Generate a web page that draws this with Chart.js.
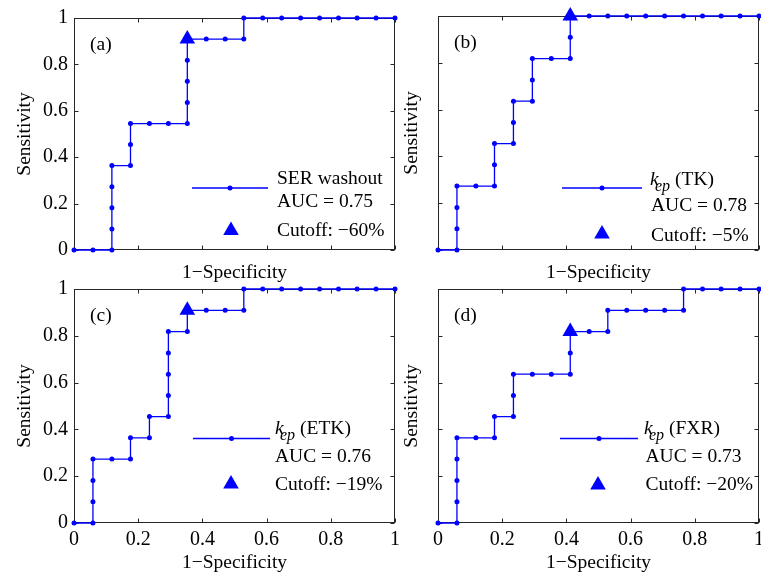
<!DOCTYPE html>
<html>
<head>
<meta charset="utf-8">
<script src="https://cdn.jsdelivr.net/npm/chart.js@4/dist/chart.umd.min.js"></script>
<style>
html,body{margin:0;padding:0;background:#fff;overflow:hidden}
body{width:761px;height:581px;position:relative}
canvas{position:absolute;left:0;top:0}
</style>
</head>
<body>
<canvas id="cA" width="770" height="581"></canvas>
<canvas id="cB" width="770" height="581"></canvas>
<canvas id="cC" width="770" height="581"></canvas>
<canvas id="cD" width="770" height="581"></canvas>
<script>
// -----------------------------
// DATA
// -----------------------------

const tickValues = [0, 0.2, 0.4, 0.6, 0.8, 1];
const tickLabels = ["0", "0.2", "0.4", "0.6", "0.8", "1"];

// (a) SER washout
const fprA = [0,0.059,0.118,0.118,0.118,0.118,0.118,0.176,0.176,0.176,0.235,0.294,0.353,0.353,0.353,0.353,0.353,0.412,0.471,0.529,0.529,0.588,0.647,0.706,0.765,0.824,0.882,0.941,1];
const tprA = [0,0,0,0.091,0.182,0.273,0.364,0.364,0.455,0.545,0.545,0.545,0.545,0.636,0.727,0.818,0.909,0.909,0.909,0.909,1,1,1,1,1,1,1,1,1];
const cutA = [0.353, 0.909];

// (b) kep (TK)
const fprB = [0,0.059,0.059,0.059,0.059,0.118,0.176,0.176,0.176,0.235,0.235,0.235,0.294,0.294,0.294,0.353,0.412,0.412,0.412,0.471,0.529,0.588,0.647,0.706,0.765,0.824,0.882,0.941,1];
const tprB = [0,0,0.091,0.182,0.273,0.273,0.273,0.364,0.455,0.455,0.545,0.636,0.636,0.727,0.818,0.818,0.818,0.909,1,1,1,1,1,1,1,1,1,1,1];
const cutB = [0.412, 1];

// (c) kep (ETK)
const fprC = [0,0.059,0.059,0.059,0.059,0.118,0.176,0.176,0.235,0.235,0.294,0.294,0.294,0.294,0.294,0.353,0.353,0.412,0.471,0.529,0.529,0.588,0.647,0.706,0.765,0.824,0.882,0.941,1];
const tprC = [0,0,0.091,0.182,0.273,0.273,0.273,0.364,0.364,0.455,0.455,0.545,0.636,0.727,0.818,0.818,0.909,0.909,0.909,0.909,1,1,1,1,1,1,1,1,1];
const cutC = [0.353, 0.909];

// (d) kep (FXR)
const fprD = [0,0.059,0.059,0.059,0.059,0.059,0.118,0.176,0.176,0.235,0.235,0.235,0.294,0.353,0.412,0.412,0.412,0.471,0.529,0.529,0.588,0.647,0.706,0.765,0.765,0.824,0.882,0.941,1];
const tprD = [0,0,0.091,0.182,0.273,0.364,0.364,0.364,0.455,0.455,0.545,0.636,0.636,0.636,0.636,0.727,0.818,0.818,0.818,0.909,0.909,0.909,0.909,0.909,1,1,1,1,1];
const cutD = [0.412, 0.818];

const panelTags = ["(a)", "(b)", "(c)", "(d)"];
const seriesNames = ["SER washout", "(TK)", "(ETK)", "(FXR)"];
const aucValues = ["0.75", "0.78", "0.76", "0.73"];
const cutoffValues = ["\u221260%", "\u22125%", "\u221219%", "\u221220%"];

const BLUE = "#0000ff";
const SERIF = "'Liberation Serif', 'Times New Roman', serif";

// -----------------------------
// DECORATION PLUGIN (box, inward ticks, tag, legend)
// -----------------------------

function drawMarker(ctx, style, r, x, y){
if(Chart.helpers && Chart.helpers.drawPoint){
Chart.helpers.drawPoint(ctx,{pointStyle:style,radius:r,borderWidth:0,rotation:0},x,y);
return;
}
ctx.beginPath();
if(style==="triangle"){
ctx.moveTo(x,y-r);
ctx.lineTo(x+r*0.866,y+r*0.5);
ctx.lineTo(x-r*0.866,y+r*0.5);
ctx.closePath();
}else{
ctx.arc(x,y,r,0,Math.PI*2);
}
ctx.fill();
}

const rocDecor = {
id:"rocDecor",
beforeDatasetsDraw(chart,args,o){
const {ctx,chartArea:a,scales:{x,y}} = chart;
const L=Math.round(a.left)+0.5, R=Math.round(a.right)-0.5;
const T=Math.round(a.top)+0.5, B=Math.round(a.bottom)-0.5;
ctx.save();
ctx.strokeStyle="#262626";
ctx.lineWidth=1;
ctx.strokeRect(L,T,R-L,B-T);
ctx.beginPath();
tickValues.forEach(v=>{
const px=Math.round(x.getPixelForValue(v))+0.5;
const py=Math.round(y.getPixelForValue(v))+0.5;
ctx.moveTo(px,B); ctx.lineTo(px,B-4);
ctx.moveTo(px,T); ctx.lineTo(px,T+4);
ctx.moveTo(L,py); ctx.lineTo(L+4,py);
ctx.moveTo(R,py); ctx.lineTo(R-4,py);
});
ctx.stroke();
ctx.restore();
},
afterDraw(chart,args,o){
const {ctx,chartArea:a} = chart;
ctx.save();
ctx.fillStyle="#000";
ctx.textBaseline="alphabetic";
ctx.textAlign="left";

// panel tag
ctx.font="19.5px "+SERIF;
ctx.fillText(o.tag,a.left+16,a.top+32);

// legend sample line with dot
ctx.strokeStyle=BLUE;
ctx.lineWidth=1.3;
ctx.beginPath();
ctx.moveTo(o.lx1,o.ly);
ctx.lineTo(o.lx2,o.ly);
ctx.stroke();
ctx.fillStyle=BLUE;
drawMarker(ctx,"circle",2.5,(o.lx1+o.lx2)/2,o.ly);
drawMarker(ctx,"triangle",9,o.tri[0],o.tri[1]);

// legend texts
ctx.fillStyle="#000";
if(o.kep){
ctx.font="italic 19.5px "+SERIF;
ctx.fillText("k",o.kx,o.b1);
ctx.font="italic 16px "+SERIF;
ctx.fillText("ep",o.kx+5,o.b1+6);
ctx.font="19.5px "+SERIF;
ctx.fillText(o.name,o.kx+25,o.b1);
}else{
ctx.font="19.5px "+SERIF;
ctx.fillText(o.name,o.tx,o.b1);
}
ctx.font="19.5px "+SERIF;
ctx.fillText("AUC = "+o.auc,o.tx,o.b2);
ctx.fillText("Cutoff: "+o.cut,o.tx,o.b3);
ctx.restore();
}
};

// -----------------------------
// CHART BUILDER
// -----------------------------

function makeChart(id,fpr,tpr,cut,p){

const points = fpr.map((v,i)=>({x:v,y:tpr[i]}));

return new Chart(document.getElementById(id),{
type:"scatter",
data:{
datasets:[{
data:points,
showLine:true,
borderColor:BLUE,
backgroundColor:BLUE,
borderWidth:1.3,
pointRadius:2.5,
pointHoverRadius:2.5,
pointBorderWidth:0,
clip:false
},{
data:[{x:cut[0],y:cut[1]}],
pointStyle:"triangle",
pointRadius:9,
pointHoverRadius:9,
pointBorderWidth:0,
backgroundColor:BLUE,
borderColor:BLUE,
clip:false
}]
},
options:{
responsive:false,
animation:false,
devicePixelRatio:1,
events:[],
layout:{padding:p.pad},
plugins:{
legend:{display:false},
tooltip:{enabled:false},
rocDecor:p.legend
},
scales:{
x:{
type:"linear",
min:0,max:1,
afterBuildTicks:s=>{s.ticks=tickValues.map(v=>({value:v}));},
afterFit:s=>{s.height=p.xH;},
grid:{display:false,drawTicks:false},
border:{display:false},
ticks:{display:p.xLabels,padding:5,color:"#000",maxRotation:0,font:{family:SERIF,size:20},
callback:(v,i)=>tickLabels[i]},
title:{display:true,text:"1\u2212Specificity",color:"#000",font:{family:SERIF,size:19.5,lineHeight:1.2},padding:{top:0,bottom:p.xTitlePad}}
},
y:{
type:"linear",
min:0,max:1,
afterBuildTicks:s=>{s.ticks=tickValues.map(v=>({value:v}));},
afterFit:s=>{s.width=p.yW;},
grid:{display:false,drawTicks:false},
border:{display:false},
ticks:{display:p.yLabels,padding:6,color:"#000",font:{family:SERIF,size:20},
callback:(v,i)=>tickLabels[i]},
title:{display:true,text:"Sensitivity",color:"#000",font:{family:SERIF,size:19.5,lineHeight:1.2},padding:{top:p.yTitlePad,bottom:0}}
}
}
},
plugins:[rocDecor]
});

}

// -----------------------------
// PANELS
// -----------------------------

makeChart("cA",fprA,tprA,cutA,{
pad:{left:0,right:375,top:16,bottom:296},
xH:35,yW:74,xLabels:false,yLabels:true,xTitlePad:0,yTitlePad:13,
legend:{tag:panelTags[0],name:seriesNames[0],kep:false,auc:aucValues[0],cut:cutoffValues[0],
lx1:192,lx2:268,ly:188,tx:277,kx:277,b1:183.5,b2:206.5,b3:236,tri:[231,230.5]}
});

makeChart("cB",fprB,tprB,cutB,{
pad:{left:400,right:11,top:16,bottom:296},
xH:35,yW:38,xLabels:false,yLabels:false,xTitlePad:0,yTitlePad:0,
legend:{tag:panelTags[1],name:seriesNames[1],kep:true,auc:aucValues[1],cut:cutoffValues[1],
lx1:562,lx2:642,ly:188,tx:651,kx:650,b1:185,b2:211,b3:240.5,tri:[602,234]}
});

makeChart("cC",fprC,tprC,cutC,{
pad:{left:0,right:375,top:289,bottom:0},
xH:58,yW:74,xLabels:true,yLabels:true,xTitlePad:6,yTitlePad:13,
legend:{tag:panelTags[2],name:seriesNames[2],kep:true,auc:aucValues[2],cut:cutoffValues[2],
lx1:193,lx2:270,ly:438.5,tx:275,kx:275,b1:433.5,b2:461.5,b3:490,tri:[231,484]}
});

makeChart("cD",fprD,tprD,cutD,{
pad:{left:400,right:11,top:289,bottom:0},
xH:58,yW:38,xLabels:true,yLabels:false,xTitlePad:6,yTitlePad:0,
legend:{tag:panelTags[3],name:seriesNames[3],kep:true,auc:aucValues[3],cut:cutoffValues[3],
lx1:560,lx2:638,ly:438.5,tx:645.5,kx:644,b1:433.5,b2:461.5,b3:490,tri:[598,485]}
});
</script>
</body>
</html>
